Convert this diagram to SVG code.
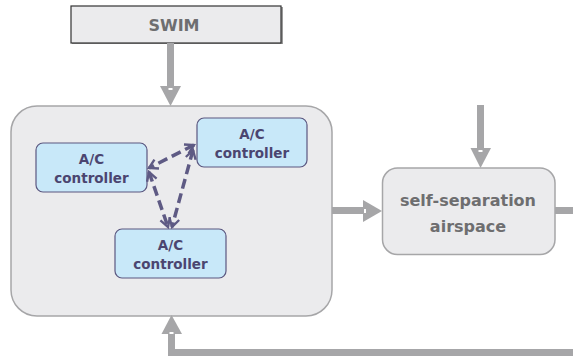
<svg xmlns="http://www.w3.org/2000/svg" width="573" height="356" viewBox="0 0 573 356">
<style>
.arr{fill:#a6a6a8}
.tick{fill:#ffffff}
.ctrl rect{fill:#c8e8f9;stroke:#5b5780;stroke-width:1.2}
.ctrl text{font-family:"DejaVu Sans",Verdana,sans-serif;font-weight:bold;font-size:13.5px;fill:#4b4570;text-anchor:middle}
.gray text{font-family:"DejaVu Sans",Verdana,sans-serif;font-weight:bold;fill:#6e6e70;text-anchor:middle}
.dash{fill:none;stroke:#5e5a84;stroke-width:3.5;stroke-dasharray:10 5;marker-start:url(#h);marker-end:url(#h)}
</style>
<defs>
<marker id="h" viewBox="0 0 8 8" refX="6.5" refY="4" markerWidth="3.6" markerHeight="3.6" orient="auto-start-reverse" markerUnits="strokeWidth">
<path d="M1,0.8 L6.5,4 L1,7.2" fill="none" stroke="#5e5a84" stroke-width="1.5"/>
</marker>
</defs>
<g id="swim" class="gray">
<rect x="72" y="7" width="211" height="37" fill="#9a9a9a"/>
<rect x="71" y="6" width="210" height="37" fill="#ebebed" stroke="#333" stroke-width="1.2"/>
<text x="174" y="31" font-size="16">SWIM</text>
</g>
<g id="container">
<rect x="11" y="106" width="321" height="210" rx="26" fill="#ebebed" stroke="#a6a6a8" stroke-width="1.5"/>
</g>
<g id="selfsep" class="gray">
<rect x="382.5" y="168" width="172.5" height="86.5" rx="15" fill="#ebebed" stroke="#a6a6a8" stroke-width="1.5"/>
<text x="468" y="206" font-size="16">self-separation</text>
<text x="468" y="232" font-size="16">airspace</text>
</g>
<g id="ctrl1" class="ctrl">
<rect x="36" y="143" width="111" height="49" rx="7"/>
<text x="91.5" y="164">A/C</text>
<text x="91.5" y="183">controller</text>
</g>
<g id="ctrl2" class="ctrl">
<rect x="197" y="118" width="110" height="49" rx="7"/>
<text x="252" y="139">A/C</text>
<text x="252" y="158">controller</text>
</g>
<g id="ctrl3" class="ctrl">
<rect x="115" y="229" width="111" height="49" rx="7"/>
<text x="170.5" y="250">A/C</text>
<text x="170.5" y="269">controller</text>
</g>
<g id="connectors">
<rect class="arr" x="167" y="43" width="7" height="43"/>
<polygon class="arr" points="160,86 181,86 170.5,106"/>
<rect class="tick" x="168.5" y="88" width="4" height="2"/>
<rect class="arr" x="332" y="207" width="31" height="7"/>
<polygon class="arr" points="363,200 363,222 382,211"/>
<rect class="tick" x="364" y="209" width="2" height="4"/>
<rect class="arr" x="477" y="105" width="7" height="43"/>
<polygon class="arr" points="470.5,148 491,148 480.5,168"/>
<rect class="tick" x="478.5" y="150" width="4" height="2"/>
<rect class="arr" x="555" y="207" width="18" height="7"/>
<rect class="arr" x="168" y="349" width="405" height="7"/>
<rect class="arr" x="168" y="333" width="7" height="20"/>
<polygon class="arr" points="161.5,334 182,334 171.5,315"/>
<rect class="tick" x="169.5" y="332" width="4" height="2"/>
<path class="dash" d="M194,145 L149,168"/>
<path class="dash" d="M149,172 L168,227"/>
<path class="dash" d="M193,150 L172,227"/>
</g>
</svg>
